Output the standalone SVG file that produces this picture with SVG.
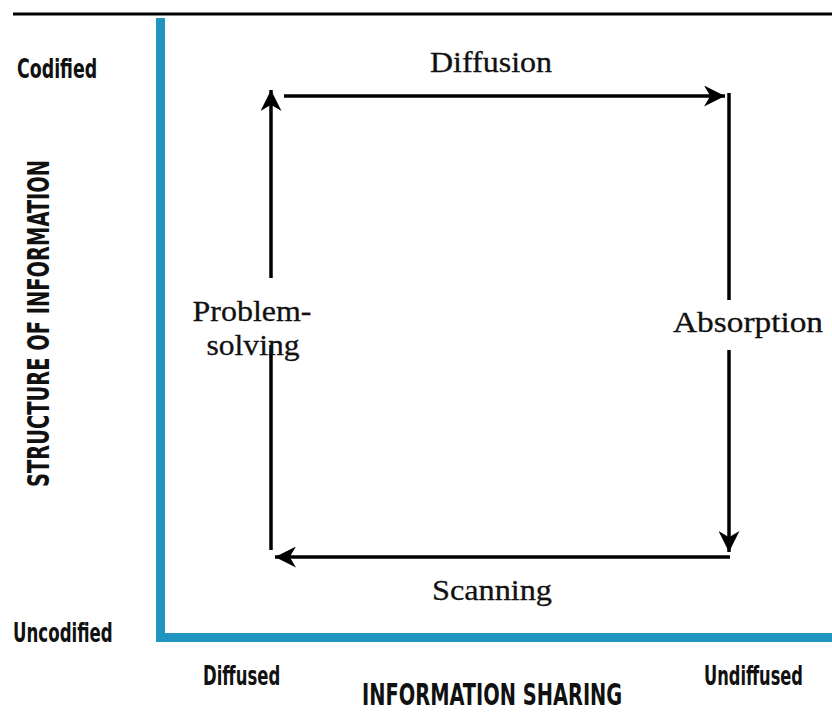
<svg xmlns="http://www.w3.org/2000/svg" width="832" height="713" viewBox="0 0 832 713">
<defs>
<style>
.axis{fill:#1f95c0}
.ln{stroke:#000;stroke-width:3.5;fill:none}
.lab{font-family:"DejaVu Sans Condensed","DejaVu Sans","Liberation Sans",sans-serif;font-weight:bold;font-size:27px;fill:#111}
.big{font-size:31px}
.ser{font-family:"Liberation Serif","DejaVu Serif",serif;font-size:30px;fill:#111;text-anchor:middle;stroke:#111;stroke-width:0.3}
</style>
<marker id="ah" viewBox="0 0 10 10" refX="10" refY="5" markerWidth="6" markerHeight="6" markerUnits="strokeWidth" orient="auto">
<path d="M0,0 L10,5 L0,10 L3,5 Z" fill="#000"/>
</marker>
</defs>
<rect x="0" y="0" width="832" height="713" fill="#fff"/>
<line x1="13" y1="14" x2="832" y2="14" stroke="#000" stroke-width="3"/>
<g id="axes">
<rect class="axis" x="156" y="18" width="9" height="624"/>
<rect class="axis" x="156" y="633" width="676" height="9"/>
</g>
<g id="axis-labels">
<text class="lab" transform="translate(17,78) scale(0.75,1)" textLength="107" lengthAdjust="spacingAndGlyphs">Codified</text>
<text class="lab" transform="translate(13,642) scale(0.75,1)" textLength="133" lengthAdjust="spacingAndGlyphs">Uncodified</text>
<text class="lab" transform="translate(203,685) scale(0.75,1)" textLength="103" lengthAdjust="spacingAndGlyphs">Diffused</text>
<text class="lab" transform="translate(704,685) scale(0.75,1)" textLength="132" lengthAdjust="spacingAndGlyphs">Undiffused</text>
<text class="lab big" transform="translate(362,705) scale(0.75,1)" textLength="347" lengthAdjust="spacingAndGlyphs">INFORMATION SHARING</text>
<text class="lab big" transform="translate(49,487) rotate(-90) scale(0.75,1)" textLength="436" lengthAdjust="spacingAndGlyphs">STRUCTURE OF INFORMATION</text>
</g>
<g id="connectors">
<line class="ln" x1="284" y1="96" x2="725" y2="96" marker-end="url(#ah)"/>
<line class="ln" x1="729" y1="93" x2="729" y2="300"/>
<line class="ln" x1="729" y1="350" x2="729" y2="552" marker-end="url(#ah)"/>
<line class="ln" x1="730" y1="557" x2="275" y2="557" marker-end="url(#ah)"/>
<line class="ln" x1="271" y1="550" x2="271" y2="345"/>
<line class="ln" x1="271" y1="278" x2="271" y2="90" marker-end="url(#ah)"/>
</g>
<g id="diffusion"><text class="ser" x="491" y="72" textLength="122" lengthAdjust="spacingAndGlyphs">Diffusion</text></g>
<g id="absorption"><text class="ser" x="748" y="332" textLength="150" lengthAdjust="spacingAndGlyphs">Absorption</text></g>
<g id="scanning"><text class="ser" x="492" y="600" textLength="120" lengthAdjust="spacingAndGlyphs">Scanning</text></g>
<g id="problem-solving"><text class="ser" x="252" y="321" textLength="119" lengthAdjust="spacingAndGlyphs">Problem-</text><text class="ser" x="253" y="355" textLength="93" lengthAdjust="spacingAndGlyphs">solving</text></g>
</svg>
